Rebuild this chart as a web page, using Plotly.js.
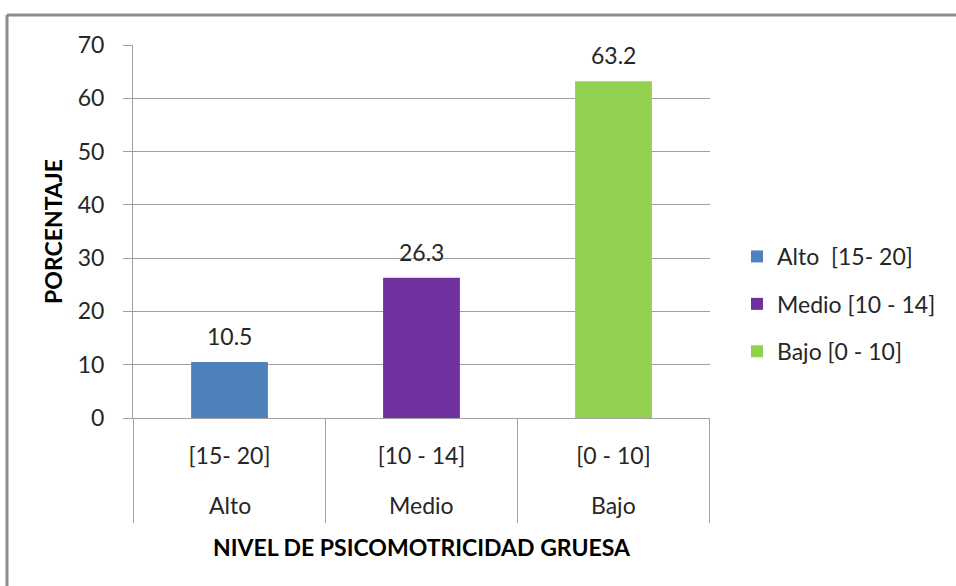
<!DOCTYPE html>
<html><head><meta charset="utf-8">
<script src="https://cdn.plot.ly/plotly-3.0.1.min.js"></script>
<style>html,body{margin:0;padding:0;background:#fff}#chart{width:956px;height:586px}</style>
</head><body><div id="chart"></div>
<script>
const niveles = ["Alto", "Medio", "Bajo"];
const rangos = ["[15- 20]", "[10 - 14]", "[0 - 10]"];
const leyenda = ["Alto&nbsp; [15- 20]", "Medio [10 - 14]", "Bajo [0 - 10]"];
const porcentajes = [10.5, 26.3, 63.2];
const colores = ["#4f81bd", "#7030a0", "#92d050"];
const yTicks = [0, 10, 20, 30, 40, 50, 60, 70];

const FONT = "Lato, 'Open Sans', sans-serif";
const TXT = "#262626";
const GRID = "#a0a0a0";

const traces = rangos.map((r, i) => ({
  type: "bar",
  x: [r],
  y: [porcentajes[i]],
  name: leyenda[i],
  legendgroup: "g" + i,
  width: 0.4,
  marker: {color: colores[i], opacity: 1},
  hoverinfo: "y"
}));

const L = 133, R = 710, T = 45, B = 418, W = 956, H = 586;
const px = x => (x - L) / (R - L);
const py = y => (B - y) / (B - T);

// value labels above bars
const annotations = porcentajes.map((v, i) => ({
  xref: "x", yref: "y", x: i, y: v,
  text: String(v), showarrow: false,
  yanchor: "bottom", yshift: 10,
  font: {family: FONT, size: 23, color: TXT}
}));
// outer category level (Alto / Medio / Bajo)
niveles.forEach((n, i) => annotations.push({
  xref: "x", yref: "paper", x: i, y: 0,
  text: n, showarrow: false,
  yanchor: "middle", yshift: -(505 - B),
  font: {family: FONT, size: 23, color: TXT}
}));

// category dividers below the axis (at the category boundaries)
const dividers = [];
for (let i = 0; i <= niveles.length; i++) {
  dividers.push({type: "line", xref: "x", yref: "paper", x0: i - 0.5, x1: i - 0.5,
    y0: 0, y1: py(523), line: {color: GRID, width: 1}});
}

const layout = {
  width: W, height: H,
  margin: {l: L, r: W - R, t: T, b: H - B, pad: 0},
  paper_bgcolor: "#fff", plot_bgcolor: "#fff",
  barmode: "overlay",
  font: {family: FONT, size: 23, color: TXT},
  xaxis: {
    type: "category", categoryorder: "array", categoryarray: rangos,
    showline: true, linecolor: GRID, linewidth: 1,
    showgrid: false, ticks: "",
    ticklabelstandoff: 17,
    tickfont: {family: FONT, size: 23, color: TXT},
    title: {text: "<b>NIVEL DE PSICOMOTRICIDAD GRUESA</b>", font: {family: FONT, size: 23, color: "#000"}, standoff: 72}
  },
  yaxis: {
    range: [0, 70], tickvals: yTicks, ticktext: yTicks.map(String),
    ticks: "outside", ticklen: 9, tickcolor: GRID, tickwidth: 1,
    ticklabelstandoff: 14,
    showline: true, linecolor: GRID, linewidth: 1,
    showgrid: true, gridcolor: GRID, gridwidth: 1, zeroline: false,
    tickfont: {family: FONT, size: 23, color: TXT},
    title: {text: "<b>PORCENTAJE</b>", font: {family: FONT, size: 23, color: "#000"}, standoff: 8}
  },
  showlegend: true,
  legend: {
    x: px(737), y: py(304), xanchor: "left", yanchor: "middle",
    traceorder: "grouped", tracegroupgap: 14.5,
    font: {family: FONT, size: 23, color: TXT},
    bgcolor: "rgba(0,0,0,0)"
  },
  annotations: annotations,
  shapes: dividers.concat([
    {type: "line", xref: "paper", yref: "paper", x0: px(7), x1: px(960), y0: py(15), y1: py(15), line: {color: "#8c8c8c", width: 3}},
    {type: "line", xref: "paper", yref: "paper", x0: px(7), x1: px(7), y0: py(15), y1: py(590), line: {color: "#8c8c8c", width: 3}}
  ])
};

Plotly.newPlot("chart", traces, layout, {displayModeBar: false, staticPlot: true});
</script>
</body></html>
